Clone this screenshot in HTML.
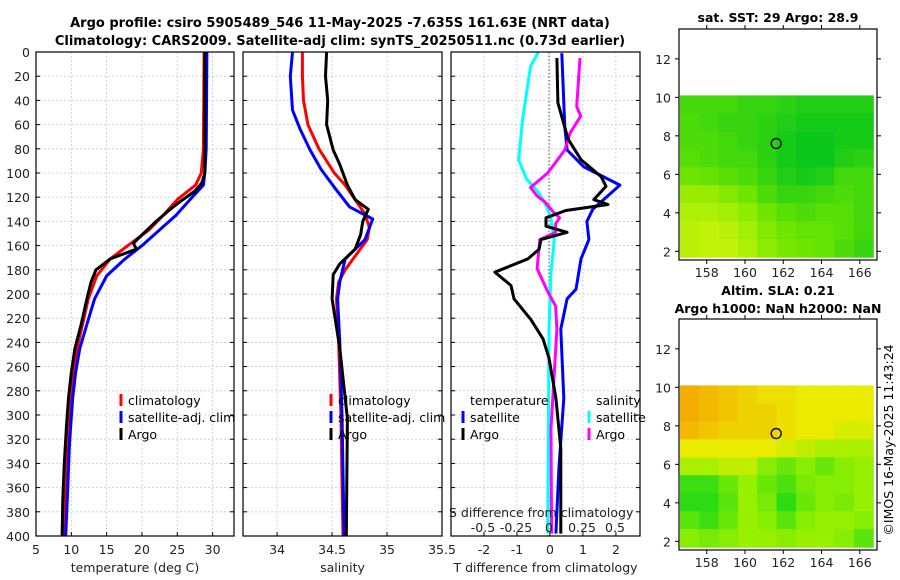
<!DOCTYPE html>
<html><head><meta charset="utf-8"><style>
html,body{margin:0;padding:0;background:#fff;}
svg{display:block;font-family:"DejaVu Sans","Liberation Sans",sans-serif;}
</style></head><body>
<svg id="fig" width="900" height="580" viewBox="0 0 900 580" xmlns="http://www.w3.org/2000/svg">
<text x="340" y="27" font-size="13" font-weight="bold" text-anchor="middle">Argo profile: csiro 5905489_546 11-May-2025 -7.635S 161.63E (NRT data)</text>
<text x="340" y="45" font-size="13" font-weight="bold" text-anchor="middle">Climatology: CARS2009. Satellite-adj clim: synTS_20250511.nc (0.73d earlier)</text>
<g id="layer"></g>
<text transform="translate(893,440) rotate(-90)" font-size="12.5" text-anchor="middle">©IMOS 16-May-2025 11:43:24</text>
</svg>
<script>
// ---------- data ----------
const depthTicks=[0,20,40,60,80,100,120,140,160,180,200,220,240,260,280,300,320,340,360,380,400];
const tempTicks=[5,10,15,20,25,30];
const salTicks=[34,34.5,35,35.5];
const tdiffTicks=[-2,-1,0,1,2];
const sdiffTicks=[-0.5,-0.25,0,0.25,0.5];
const sdiffLabels=["-0.5","-0.25","0","0.25","0.5"];

const tClimDepth=[0,80,100,110,122,135,147,160,171,185,204,225,245,265,286,310,328,360,400];
const tClimVal=[28.8,28.7,28.4,27.6,25.0,23.0,21.0,18.0,15.5,13.6,12.4,11.6,10.8,10.3,10.0,9.7,9.5,9.2,8.9];
const tSatDepth=[0,80,100,110,122,135,147,160,171,185,204,225,245,265,286,310,328,360,400];
const tSatVal=[29.2,29.1,28.9,28.7,26.8,24.8,22.5,20.0,17.6,15.0,13.3,12.2,11.2,10.6,10.2,9.9,9.7,9.5,9.2];
const tArgoDepth=[0,100,108,115,122,130,140,150,158,163,171,180,190,204,225,245,265,286,310,340,370,400];
const tArgoVal=[28.9,28.9,28.5,27.5,25.8,24.0,22.0,20.2,18.8,19.2,15.5,13.5,12.8,12.2,11.4,10.5,10.0,9.6,9.3,9.0,8.8,8.7];

const sClimDepth=[0,20,40,60,80,100,110,122,134,145,155,165,180,190,204,240,300,400];
const sClimVal=[34.23,34.23,34.24,34.28,34.38,34.52,34.62,34.71,34.80,34.84,34.82,34.74,34.62,34.56,34.54,34.56,34.58,34.60];
const sSatDepth=[0,20,48,64,81,97,113,128,138,155,171,190,204,240,300,400];
const sSatVal=[34.14,34.12,34.14,34.21,34.30,34.40,34.53,34.66,34.87,34.80,34.62,34.57,34.55,34.57,34.59,34.61];
const sArgoDepth=[0,20,40,60,81,93,110,122,130,140,151,163,175,184,204,245,303,400];
const sArgoVal=[34.45,34.44,34.46,34.45,34.51,34.57,34.64,34.71,34.83,34.78,34.76,34.71,34.57,34.51,34.50,34.57,34.64,34.63];

const dtSatDepth=[1,62,81,95,110,130,140,155,171,196,204,229,286,344,398];
const dtSatVal=[0.36,0.45,0.52,1.03,2.12,1.30,1.12,1.18,0.94,0.79,0.52,0.33,0.42,0.27,0.18];
const dtArgoDepth=[5,42,72,89,103,111,122,126,131,137,144,149,155,163,171,182,193,204,221,237,253,286,328,398];
const dtArgoVal=[0.21,0.24,0.55,0.94,1.55,1.70,1.33,1.76,0.48,-0.12,-0.12,0.52,-0.27,-0.33,-0.67,-1.67,-1.18,-1.09,-0.58,-0.21,-0.03,0.18,0.33,0.33];
const dsSatDepth=[0,12,56,89,105,116,128,138,155,182,229,398];
const dsSatVal=[-0.08,-0.14,-0.20,-0.23,-0.17,-0.08,-0.015,0.015,0.04,0.015,0.0,-0.01];
const dsArgoDepth=[5,45,53,67,81,100,112,119,124,132,137,142,149,155,179,198,210,229,311,398];
const dsArgoVal=[0.235,0.21,0.24,0.16,0.12,-0.01,-0.14,-0.09,-0.03,0.03,0.08,0.05,0.05,-0.07,-0.09,-0.01,0.05,0.06,0.015,0.02];

const mapLatTicks=[2,4,6,8,10,12];
const mapLonTicks=[158,160,162,164,166];
const sstGrid=[
[0.30,0.30,0.30,0.25,0.25,0.20,0.15,0.15,0.15,0.15],
[0.35,0.30,0.25,0.25,0.20,0.15,0.10,0.10,0.10,0.10],
[0.35,0.35,0.30,0.25,0.20,0.10,0.05,0.05,0.10,0.10],
[0.40,0.35,0.30,0.30,0.20,0.10,0.05,0.05,0.15,0.20],
[0.50,0.45,0.40,0.35,0.25,0.15,0.10,0.15,0.30,0.30],
[0.70,0.70,0.60,0.50,0.35,0.25,0.25,0.30,0.35,0.30],
[0.80,0.80,0.75,0.65,0.50,0.40,0.35,0.40,0.40,0.30],
[0.85,0.90,0.85,0.75,0.60,0.50,0.45,0.45,0.40,0.30],
[0.85,0.90,0.90,0.80,0.65,0.55,0.50,0.45,0.35,0.25]];
const slaGrid=[
[0.95,0.90,0.85,0.80,0.75,0.75,0.70,0.70,0.70,0.70],
[0.95,0.90,0.85,0.80,0.80,0.75,0.70,0.70,0.70,0.70],
[0.90,0.85,0.80,0.80,0.80,0.75,0.70,0.70,0.65,0.65],
[0.70,0.70,0.70,0.70,0.70,0.65,0.60,0.55,0.55,0.55],
[0.55,0.55,0.60,0.60,0.45,0.35,0.45,0.35,0.45,0.50],
[0.20,0.20,0.35,0.50,0.35,0.25,0.40,0.45,0.45,0.50],
[0.15,0.15,0.30,0.50,0.40,0.15,0.35,0.45,0.40,0.50],
[0.30,0.20,0.35,0.50,0.45,0.30,0.45,0.50,0.50,0.45],
[0.45,0.40,0.45,0.50,0.50,0.45,0.50,0.50,0.45,0.30]];
const argoLon=161.63, argoLat=7.6;

// ---------- helpers ----------
const NS="http://www.w3.org/2000/svg";
const layer=document.getElementById('layer');
function mk(tag,attrs,parent){const e=document.createElementNS(NS,tag);for(const k in attrs)e.setAttribute(k,attrs[k]);(parent||layer).appendChild(e);return e;}
const Y0=52, Y1=536;
const FS=12.5;
const yD=d=>Y0+(d/400)*(Y1-Y0);
function lin(d0,d1,p0,p1){return v=>p0+(v-d0)/(d1-d0)*(p1-p0);}
const panels=[
 {name:'temperature-panel',x0:36,x1:234,sx:lin(5,33.03,36,234),ticks:tempTicks,labels:tempTicks.map(String),xlabel:'temperature (deg C)'},
 {name:'salinity-panel',x0:243,x1:442,sx:lin(33.69,35.5,243,442),ticks:salTicks,labels:salTicks.map(String),xlabel:'salinity'},
 {name:'difference-panel',x0:451,x1:640,sx:lin(-3,2.73,451,640),ticks:tdiffTicks,labels:tdiffTicks.map(String),xlabel:'T difference from climatology'}];

panels.forEach((p,pi)=>{
 const g=mk('g',{});
 
 
 p.ticks.forEach(t=>{const x=p.sx(t); if(x>p.x0+1&&x<p.x1-1) mk('line',{x1:x,x2:x,y1:Y0,y2:Y1,stroke:'#c4c8e4','stroke-width':0.8,'stroke-dasharray':'2,2'},g);});
 depthTicks.forEach(d=>{const y=yD(d); if(d>0&&d<400) mk('line',{x1:p.x0,x2:p.x1,y1:y,y2:y,stroke:'#c4c8e4','stroke-width':0.8,'stroke-dasharray':'2,2'},g);
   mk('line',{x1:p.x0,x2:p.x0+4,y1:y,y2:y,stroke:'#000'},g); mk('line',{x1:p.x1-4,x2:p.x1,y1:y,y2:y,stroke:'#000'},g);
   if(pi===0){const t=mk('text',{x:30,y:y+5,'font-size':FS,'text-anchor':'end',fill:'#222'},g);t.textContent=d;}});
 p.ticks.forEach((t,i)=>{const x=p.sx(t); mk('line',{x1:x,x2:x,y1:Y1,y2:Y1-4,stroke:'#000'},g);
   const tx=mk('text',{x:x,y:554,'font-size':FS,'text-anchor':'middle',fill:'#222'},g);tx.textContent=p.labels[i];});
 const xl=mk('text',{x:(p.x0+p.x1)/2,y:572,'font-size':FS,'text-anchor':'middle',fill:'#222'},g);
 
 
 xl.textContent=p.xlabel;
 p.g=g;
});
function series(p,depths,vals,color,w,name,sx){
 const f=sx||p.sx;
 const pts=depths.map((d,i)=>f(vals[i]).toFixed(1)+','+yD(d).toFixed(1)).join(' ');
 const e=mk('polyline',{points:pts,fill:'none',stroke:color,'stroke-width':w,'stroke-linejoin':'round'},p.g);
 
 
}
mk('line',{x1:549,x2:549,y1:Y0,y2:Y1,stroke:'#556b2f','stroke-width':1,'stroke-dasharray':'1.5,2'},panels[2].g);
series(panels[0],tClimDepth,tClimVal,'#ff0000',3,'temperature-climatology-line');
series(panels[0],tSatDepth,tSatVal,'#0000ff',3,'temperature-satellite-line');
series(panels[0],tArgoDepth,tArgoVal,'#000',3,'temperature-argo-line');
series(panels[1],sClimDepth,sClimVal,'#ff0000',3,'salinity-climatology-line');
series(panels[1],sSatDepth,sSatVal,'#0000ff',3,'salinity-satellite-line');
series(panels[1],sArgoDepth,sArgoVal,'#000',3,'salinity-argo-line');
const sdx=lin(0,0.25,549,582);
series(panels[2],dsSatDepth,dsSatVal,'#00ffff',3,'sdiff-satellite-line',sdx);
series(panels[2],dtSatDepth,dtSatVal,'#0000ff',3,'tdiff-satellite-line');
series(panels[2],dsArgoDepth,dsArgoVal,'#ff00ff',3,'sdiff-argo-line',sdx);
series(panels[2],dtArgoDepth,dtArgoVal,'#000',3,'tdiff-argo-line');
sdiffTicks.forEach((t,i)=>{const tx=mk('text',{x:sdx(t),y:532,'font-size':FS,'text-anchor':'middle',fill:'#222'},panels[2].g);tx.textContent=sdiffLabels[i];});
{const tx=mk('text',{x:449,y:517,'font-size':FS,fill:'#222'},panels[2].g);tx.textContent='S difference from climatology';}
panels.forEach(p=>{mk('rect',{x:p.x0,y:Y0,width:p.x1-p.x0,height:Y1-Y0,fill:'none',stroke:'#000','stroke-width':1.2},p.g);});
function legend(p,x,y,items,title){
 const g=mk('g',{},p.g);
 
 
 if(title){const t=mk('text',{x:x+7,y:y,'font-size':FS,fill:'#000'},g);t.textContent=title;y+=17;}
 items.forEach(([c,l])=>{mk('line',{x1:x,x2:x,y1:y-11,y2:y+1,stroke:c,'stroke-width':3},g);
  const t=mk('text',{x:x+7,y:y,'font-size':FS,fill:'#000'},g);t.textContent=l;y+=17;});
}
legend(panels[0],121,405,[['#ff0000','climatology'],['#0000ff','satellite-adj. clim'],['#000','Argo']]);
legend(panels[1],331,405,[['#ff0000','climatology'],['#0000ff','satellite-adj. clim'],['#000','Argo']]);
legend(panels[2],463,405,[['#0000ff','satellite'],['#000','Argo']],'temperature');
legend(panels[2],589,405,[['#00ffff','satellite'],['#ff00ff','Argo']],'salinity');

// ---------- maps ----------
function mix(a,b,t){return a.map((v,i)=>Math.round(v+(b[i]-v)*t));}
function sstColor(v){const a=[0,196,30],b=[110,230,0],c=[215,245,10];return 'rgb('+(v<0.5?mix(a,b,v/0.5):mix(b,c,(v-0.5)/0.5))+')';}
function slaColor(v){const s=[[0,0,210,30],[0.5,150,240,0],[0.7,235,235,0],[1,245,160,0]];
 for(let i=1;i<s.length;i++){if(v<=s[i][0]){const t=(v-s[i-1][0])/(s[i][0]-s[i-1][0]);return 'rgb('+mix(s[i-1].slice(1),s[i].slice(1),t)+')';}}return 'rgb(245,160,0)';}
function drawMap(name,fx,fy,fh,grid,cfn,t1){
 const g=mk('g',{});
 
 
 const fw=198;
 const lon=lin(156.55,166.9,fx,fx+fw);
 const lat=lin(1.55,13.55,fy+fh,fy);
 const rows=grid.length, cols=grid[0].length;
 const latTop=10.1, latBot=1.7, lonL=156.6, lonR=166.7;
 for(let r=0;r<rows;r++)for(let c=0;c<cols;c++){
  const y0=lat(latTop-(latTop-latBot)*r/rows), y1=lat(latTop-(latTop-latBot)*(r+1)/rows);
  const x0=lon(lonL+(lonR-lonL)*c/cols), x1=lon(lonL+(lonR-lonL)*(c+1)/cols);
  const cell=mk('rect',{x:x0.toFixed(1),y:y0.toFixed(1),width:(x1-x0+0.6).toFixed(1),height:(y1-y0+0.6).toFixed(1),fill:cfn(grid[r][c])},g);
  
  
 }
 mk('circle',{cx:lon(argoLon),cy:lat(argoLat),r:5,fill:'none',stroke:'#000','stroke-width':1.3},g);
 mk('rect',{x:fx,y:fy,width:fw,height:fh,fill:'none',stroke:'#000','stroke-width':1.2},g);
 mapLatTicks.forEach(t=>{const y=lat(t);mk('line',{x1:fx,x2:fx-4,y1:y,y2:y,stroke:'#000'},g);mk('line',{x1:fx+fw,x2:fx+fw+4,y1:y,y2:y,stroke:'#000'},g);
  const tx=mk('text',{x:fx-8,y:y+5,'font-size':FS,'text-anchor':'end',fill:'#222'},g);tx.textContent=t;});
 mapLonTicks.forEach(t=>{const x=lon(t);mk('line',{x1:x,x2:x,y1:fy,y2:fy-4,stroke:'#000'},g);mk('line',{x1:x,x2:x,y1:fy+fh,y2:fy+fh+4,stroke:'#000'},g);
  const tx=mk('text',{x:x,y:fy+fh+17,'font-size':FS,'text-anchor':'middle',fill:'#222'},g);tx.textContent=t;});
 t1.forEach(([s,y])=>{const tx=mk('text',{x:fx+fw/2,y:y,'font-size':12.5,'font-weight':'bold','text-anchor':'middle'},g);tx.textContent=s;});
}
drawMap('sst-map',679,29,231,sstGrid,sstColor,[['sat. SST: 29 Argo: 28.9',22]]);
drawMap('sla-map',679,319,231,slaGrid,slaColor,[['Altim. SLA: 0.21',295],['Argo h1000: NaN h2000: NaN',313]]);
</script>
</body></html>
